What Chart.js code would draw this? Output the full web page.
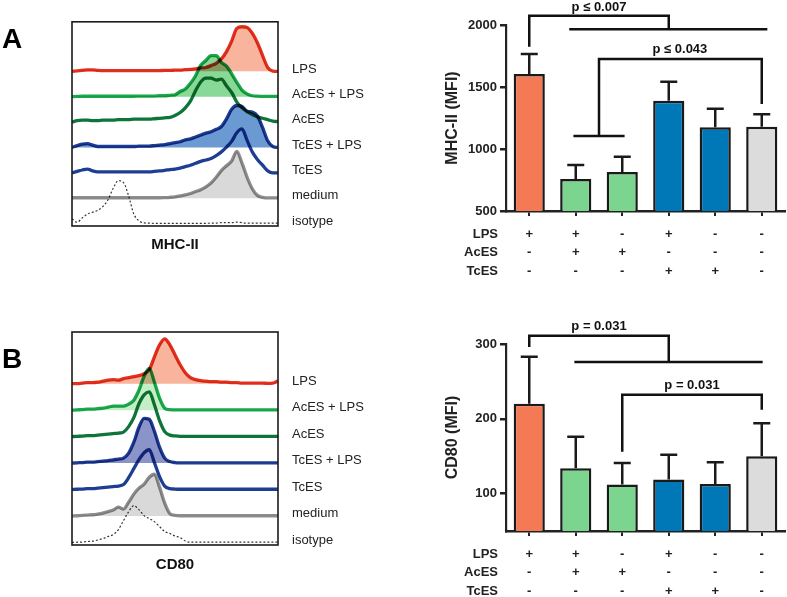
<!DOCTYPE html>
<html>
<head>
<meta charset="utf-8">
<script src="https://cdn.jsdelivr.net/npm/chart.js@4.4.1/dist/chart.umd.min.js"></script>
<style>
  body { margin: 0; background: #fff; }
  #wrap { position: relative; width: 787px; height: 597px; }
  canvas { position: absolute; }
</style>
</head>
<body>
<div id="wrap">
  <canvas id="histA" width="400" height="290" style="left:0;top:0"></canvas>
  <canvas id="barA" width="387" height="300" style="left:400px;top:0"></canvas>
  <canvas id="histB" width="400" height="307" style="left:0;top:290px"></canvas>
  <canvas id="barB" width="387" height="297" style="left:400px;top:300px"></canvas>
</div>
<script>
// ---- histogram overlays (heights, one row per sample) ----
const histRows = ['LPS', 'AcES + LPS', 'AcES', 'TcES + LPS', 'TcES', 'medium', 'isotype'];
const channel = [0, 2.5, 5, 7.5, 10, 12.5, 15, 17.5, 20, 22.5, 25, 27.5, 30, 32.5, 35, 37.5, 40,
  42.5, 45, 47.5, 50, 52.5, 55, 57.5, 60, 62.5, 65, 67.5, 70, 72.5, 75, 77.5, 80, 82.5, 85, 87.5,
  90, 92.5, 95, 97.5, 100];

const mhcLps = [0, 0.5, 1, 1.5, 1.5, 1, 0.7, 0.7, 0.7, 0.7, 0.7, 0.7, 0.7, 0.7, 0.7, 0.7, 0.7, 0.7, 1, 1,
  1.2, 1.3, 1.7, 2, 2.5, 3.5, 4, 6, 8.3, 13, 20.7, 31.7, 45, 46.7, 46, 40, 30, 16.7, 4, 0.3, 0];
const mhcAcesLps = [0, 0.3, 0.5, 0.5, 0.5, 0.5, 0.5, 0.5, 0.5, 0.5, 0.5, 0.5, 0.5, 0.7, 0.7, 0.7, 0.7, 1, 1, 1.5,
  2, 5.5, 8, 14, 22, 33, 38, 43, 43, 36, 32, 24, 15, 7, 3, 1, 0.5, 0.3, 0.3, 0.3, 0.3];
const mhcAces = [0, 1.5, 2, 2, 1.5, 1.5, 2, 2, 2, 2.5, 2.5, 2.5, 3, 3, 3, 3, 3.5, 4, 4.5, 5,
  7, 10, 15, 22, 33, 42, 46, 46, 44, 45, 38, 31, 21, 15, 11, 8, 5.5, 4, 2.5, 1, 0.5];
const mhcTcesLps = [0, 2, 3.5, 4, 2.5, 1, 1, 1, 1, 1, 1, 1, 1, 1.5, 1.5, 1.5, 2, 2.5, 3, 4,
  5, 6, 8, 9, 11, 13, 15, 16.5, 19, 22, 30, 40, 44, 43, 38, 37, 33, 21, 7, 1, 0];
const mhcTces = [0, 1.5, 3, 4, 2, 1, 1, 1, 1, 1, 1, 1, 1, 1, 1, 1, 1.5, 2, 2.5, 3.5,
  4, 5, 6.5, 8, 10, 12, 13.5, 15, 18, 22, 27, 33, 42, 46, 34, 22, 14, 8, 2, 0, 0];
const mhcMedium = [0.5, 0.5, 0.5, 0.5, 0.5, 0.5, 0.5, 0.5, 0.5, 0.5, 0.5, 0.5, 0.5, 0.5, 0.5, 0.5, 0.5, 0.5, 0.7, 1,
  1.5, 2.5, 3.5, 5, 7, 9, 12, 16, 22, 29, 34, 39, 49, 37, 22, 10, 3, 1, 0.3, 0.3, 0.3];
const mhcIsotype = [5, 1.5, 6, 10, 12, 14, 18, 25, 37, 45, 43, 29, 10, 3, 0.7, 0.5, 0.3, 0.3, 0.3, 0.3,
  0.3, 0.3, 0.3, 0.3, 0.3, 0.3, 0.3, 0.5, 0.5, 1, 1, 1, 1.5, 1, 0.5, 0.5, 0.5, 0.5, 0.5, 0.5, 0.5];

const cdLps = [0, 0, 0.5, 1, 1, 1.5, 2.5, 3.5, 4, 3.5, 5, 6, 7, 8, 10, 14, 27, 39, 45, 39,
  29, 19, 11, 6, 4, 3, 2.5, 2, 2, 1.5, 1.5, 1, 1, 0.5, 0.5, 0.5, 0.5, 0.5, 0.3, 0.5, 3];
const cdAcesLps = [0, 0.3, 0.5, 1, 1, 1.5, 2, 3, 4, 4, 4, 6, 10, 20, 34, 42, 28, 12, 2, 0.5,
  0.3, 0.3, 0.3, 0.3, 0.3, 0.3, 0.3, 0.3, 0.3, 0.3, 0.3, 0.3, 0.3, 0.3, 0.3, 0.3, 0.3, 0.3, 0.3, 0.3, 0.3];
const cdAces = [0, 0.3, 0.5, 1, 1, 1.5, 2, 2.5, 3, 3.5, 4.5, 10, 19, 33, 42, 45, 32, 16, 5, 1.5,
  0.7, 0.3, 0.3, 0.3, 0.3, 0.3, 0.3, 0.3, 0.3, 0.3, 0.3, 0.3, 0.3, 0.3, 0.3, 0.3, 0.3, 0.3, 0.3, 0.3, 0.3];
const cdTcesLps = [0, 0.3, 0.5, 1, 1, 1.5, 2, 2.5, 3.3, 4, 5, 10, 21, 36, 45, 44, 32, 16, 5, 1.5,
  0.5, 0.3, 0.3, 0.3, 0.3, 0.3, 0.3, 0.3, 0.3, 0.3, 0.3, 0.3, 0.3, 0.3, 0.3, 0.3, 0.3, 0.3, 0.3, 0.3, 0.3];
const cdTces = [0, 0.3, 0.5, 1, 1, 1.5, 2, 2.5, 3, 3.5, 5, 12, 21, 30, 37, 40, 27, 13, 3.5, 1,
  0.5, 0.3, 0.3, 0.3, 0.3, 0.3, 0.3, 0.3, 0.3, 0.3, 0.3, 0.3, 0.3, 0.3, 0.3, 0.3, 0.3, 0.3, 0.3, 0.3, 0.3];
const cdMedium = [0, 0.3, 0.7, 1, 1.3, 2, 3, 4.5, 6, 9, 7, 14, 22, 28, 32, 39, 42, 29, 13, 2.5,
  0.7, 0.3, 0.3, 0.3, 0.3, 0.3, 0.3, 0.3, 0.3, 0.3, 0.3, 0.3, 0.3, 0.3, 0.3, 0.3, 0.3, 0.3, 0.3, 0.3, 0.3];
const cdIsotype = [0, 0.3, 0.5, 1, 1.3, 2.5, 4, 6, 8, 13, 22, 31, 37, 33, 27, 24, 21, 16, 11, 9,
  6.5, 5, 1.5, 0.3, 0.3, 0.3, 0.3, 0.3, 0.3, 0.3, 0.3, 0.3, 0.3, 0.3, 0.3, 0.3, 0.3, 0.3, 0.3, 0.3, 0.3];

// ---- bar charts ----
const groups = ['LPS', 'AcES + LPS', 'AcES', 'TcES + LPS', 'TcES', 'medium'];
const rowNames = ['LPS', 'AcES', 'TcES'];
const lpsRow = ['+', '+', '-', '+', '-', '-'];
const acesRow = ['-', '+', '+', '-', '-', '-'];
const tcesRow = ['-', '-', '-', '+', '+', '-'];

const mhcMean = [1605, 759, 815, 1390, 1175, 1180];
const mhcSem = [161, 112, 123, 153, 150, 100];
const cd80Mean = [220, 134, 112, 119, 113, 150];
const cd80Sem = [63, 42, 29, 33, 29, 44];

// significance brackets, in (category index, axis value)
const mhcBrackets = [
  [[0, 1825], [0, 2075], [3, 2075], [3, 1965]],
  [[0.86, 1965], [5.12, 1965]],
  [[1.5, 1105], [1.5, 1726], [5, 1726], [5, 1363]],
  [[0.95, 1105], [2.05, 1105]]
];
const mhcPValues = [['p \u2264 0.007', 1.5, 2145], ['p \u2264 0.043', 3.24, 1807]];
const cd80Brackets = [
  [[0, 296], [0, 311], [3, 311], [3, 276]],
  [[0.97, 276], [5.02, 276]],
  [[2, 156], [2, 232], [5, 232], [5, 212]]
];
const cd80PValues = [['p = 0.031', 1.5, 323], ['p = 0.031', 3.5, 245]];

const barColors = ['#F47A56', '#7BD58E', '#7BD58E', '#0077B6', '#0077B6', '#DCDCDC'];
const lineColors = ['#E2321F', '#19A94F', '#0E7437', '#1E3E94', '#1E3E94', '#8E8E8E', '#333333'];
const fillsA = ['#F8B49C', '#88D898', null, '#6B9AD2', null, '#D9D9D9', null];
const fillsB = ['#F8B49C', '#C4EEC6', null, '#8A94C9', null, '#D9D9D9', null];

Chart.defaults.font.family = '"Liberation Sans", Arial, sans-serif';
Chart.defaults.color = '#222';

const ROW_GAP = 26.6;
const baseOf = r => 2.5 + ROW_GAP * (histRows.length - 1 - r);

const multiply = {
  id: 'multiply',
  beforeDatasetsDraw(chart) { chart.ctx.save(); chart.ctx.globalCompositeOperation = 'multiply'; },
  afterDatasetsDraw(chart) { chart.ctx.restore(); }
};

const frame = {
  id: 'frame',
  afterDraw(chart, args, opts) {
    const {ctx, chartArea: a} = chart;
    ctx.save();
    ctx.strokeStyle = '#1a1a1a';
    ctx.lineWidth = 1.6;
    ctx.strokeRect(a.left, a.top, a.right - a.left, a.bottom - a.top);
    ctx.font = 'bold 28px "Liberation Sans", Arial, sans-serif';
    ctx.fillStyle = '#000';
    ctx.textBaseline = 'alphabetic';
    ctx.fillText(opts.letter, 2, opts.letterY);
    ctx.restore();
  }
};

function histChart(id, series, fills, marker, topPad, axisH, titlePad, letterY) {
  const datasets = series.map((s, r) => {
    const base = baseOf(r);
    const iso = r === histRows.length - 1;
    return {
      label: histRows[r],
      data: s.map((h, i) => ({x: channel[i], y: base + h})),
      borderColor: lineColors[r],
      borderWidth: iso ? 1.2 : 3.3,
      borderDash: iso ? [2, 2] : [],
      backgroundColor: fills[r] || 'transparent',
      fill: fills[r] ? {value: base} : false,
      pointRadius: 0,
      cubicInterpolationMode: 'monotone',
      order: histRows.length - 1 - r
    };
  });
  return new Chart(document.getElementById(id), {
    type: 'line',
    data: {datasets},
    options: {
      responsive: false,
      animation: false,
      layout: {padding: {left: 72, top: topPad, right: 0, bottom: 0}},
      scales: {
        x: {
          type: 'linear', min: 0, max: 100,
          ticks: {display: false},
          grid: {display: false, drawTicks: false},
          border: {display: false},
          title: {display: true, text: marker, color: '#111',
                  font: {size: 15, weight: 'bold'}, padding: {top: 0, bottom: titlePad}},
          afterFit: s => { s.height = axisH; }
        },
        y: {
          position: 'right', min: 0, max: 214,
          grid: {display: false, drawTicks: false},
          border: {display: false},
          ticks: {padding: 14, font: {size: 13}, color: '#222',
                  callback: (v, i) => histRows[histRows.length - 1 - i]},
          afterBuildTicks: s => { s.ticks = histRows.map((n, r) => ({value: baseOf(histRows.length - 1 - r) + 2.5})); },
          afterFit: s => { s.width = 122; }
        }
      },
      plugins: {legend: {display: false}, tooltip: {enabled: false},
                frame: {letter: id === 'histA' ? 'A' : 'B', letterY}}
    },
    plugins: [multiply, frame]
  });
}

histChart('histA', [mhcLps, mhcAcesLps, mhcAces, mhcTcesLps, mhcTces, mhcMedium, mhcIsotype],
          fillsA, 'MHC-II', 12, 64, 36, 48);
histChart('histB', [cdLps, cdAcesLps, cdAces, cdTcesLps, cdTces, cdMedium, cdIsotype],
          fillsB, 'CD80', 42, 52, 23, 78);

// error bars, brackets and the treatment table labels
const extras = {
  id: 'extras',
  afterDatasetsDraw(chart, args, opts) {
    const {ctx, scales: {x, y}} = chart;
    const meta = chart.getDatasetMeta(0);
    ctx.save();
    ctx.strokeStyle = '#1a1a1a';
    ctx.lineWidth = 2.5;
    meta.data.forEach((bar, i) => {
      const top = y.getPixelForValue(opts.mean[i]);
      const err = y.getPixelForValue(opts.mean[i] + opts.sem[i]);
      ctx.beginPath();
      ctx.moveTo(bar.x, top); ctx.lineTo(bar.x, err);
      ctx.moveTo(bar.x - 8.5, err); ctx.lineTo(bar.x + 8.5, err);
      ctx.stroke();
    });
    ctx.restore();
  },
  afterDraw(chart, args, opts) {
    const {ctx, chartArea, scales: {x, y}} = chart;
    ctx.save();
    ctx.strokeStyle = '#111';
    ctx.lineWidth = 2.5;
    opts.brackets.forEach(path => {
      ctx.beginPath();
      path.forEach(([c, v], k) => {
        const px = x.getPixelForValue(c), py = y.getPixelForValue(v);
        k ? ctx.lineTo(px, py) : ctx.moveTo(px, py);
      });
      ctx.stroke();
    });
    ctx.fillStyle = '#111';
    ctx.font = 'bold 13px "Liberation Sans", Arial, sans-serif';
    ctx.textAlign = 'center';
    ctx.textBaseline = 'middle';
    opts.pValues.forEach(([t, c, v]) => ctx.fillText(t, x.getPixelForValue(c), y.getPixelForValue(v)));
    ctx.textAlign = 'right';
    ctx.fillStyle = '#222';
    rowNames.forEach((n, i) => ctx.fillText(n, chartArea.left - 8, x.top + 14 + 18.5 * (i + 0.5)));
    ctx.restore();
  }
};

function barChart(id, mean, sem, yScale, title, topPad, axisH, brackets, pValues) {
  return new Chart(document.getElementById(id), {
    type: 'bar',
    data: {
      labels: groups,
      datasets: [{
        data: mean,
        backgroundColor: barColors,
        borderColor: '#1a1a1a',
        borderWidth: 2.5,
        barPercentage: 0.67,
        categoryPercentage: 1
      }]
    },
    options: {
      responsive: false,
      animation: false,
      layout: {padding: {top: topPad, right: 2, left: 0, bottom: 0}},
      scales: {
        x: {
          grid: {drawOnChartArea: false, offset: false, tickLength: 5, lineWidth: 2, color: '#222'},
          border: {width: 2.5, color: '#222'},
          ticks: {font: {size: 13, weight: 'bold', lineHeight: 1.423}, color: '#222', padding: 9,
                  maxRotation: 0, autoSkip: false,
                  callback: (v, i) => [lpsRow[i], acesRow[i], tcesRow[i]]},
          afterFit: s => { s.height = axisH; }
        },
        y: Object.assign({
          grid: {drawOnChartArea: false, tickLength: 6, lineWidth: 2.5, color: '#222'},
          border: {width: 2.2, color: '#222'},
          title: {display: true, text: title, color: '#222',
                  font: {size: 16, weight: 'bold'}, padding: {top: 43, bottom: 0}},
          afterFit: s => { s.width = 106; }
        }, yScale)
      },
      plugins: {legend: {display: false}, tooltip: {enabled: false},
                extras: {mean, sem, brackets, pValues}}
    },
    plugins: [extras]
  });
}

const plainTicks = {font: {size: 13, weight: 'bold'}, color: '#222', padding: 3, callback: v => String(v)};

barChart('barA', mhcMean, mhcSem,
  {min: 500, max: 2000, ticks: Object.assign({stepSize: 500}, plainTicks)},
  'MHC-II (MFI)', 25, 89, mhcBrackets, mhcPValues);
barChart('barB', cd80Mean, cd80Sem,
  {min: 50, max: 300, ticks: plainTicks,
   afterBuildTicks: s => { s.ticks = [100, 200, 300].map(v => ({value: v})); }},
  'CD80 (MFI)', 44, 66, cd80Brackets, cd80PValues);
</script>
</body>
</html>
